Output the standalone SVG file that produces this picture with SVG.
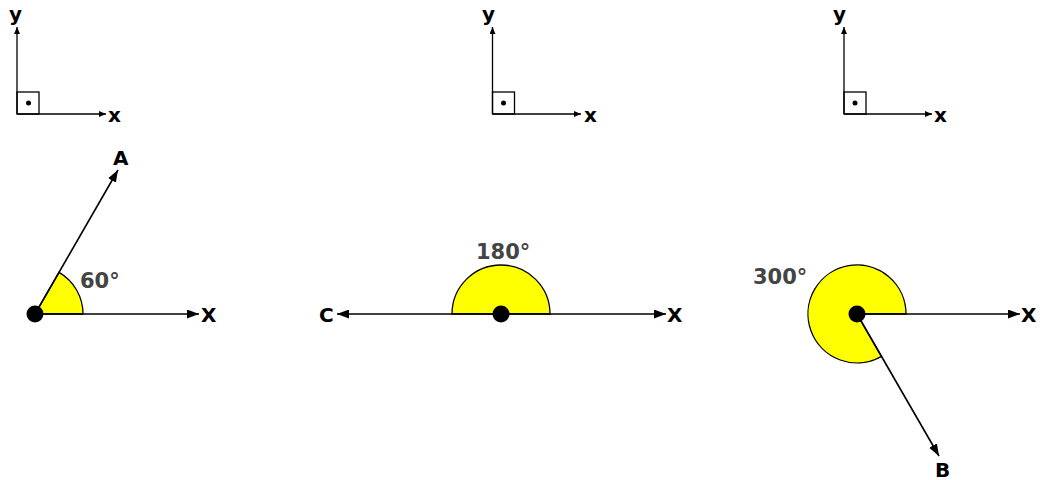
<svg xmlns="http://www.w3.org/2000/svg" width="1040" height="480" viewBox="0 0 1040 480">
<style>
.ln{stroke:#000;stroke-width:1.6;fill:none}
.ax{stroke:#000;stroke-width:1.3;fill:none}
.sec{fill:#ffff00;stroke:#000;stroke-width:1.3}
.lbl{font-family:"DejaVu Sans",Verdana,sans-serif;font-weight:bold;font-size:20px;fill:#000}
.deg{font-family:"DejaVu Sans",Verdana,sans-serif;font-weight:bold;font-size:21px;fill:#444}
.axl{font-family:"DejaVu Sans",Verdana,sans-serif;font-weight:bold;font-size:20px;fill:#000}
</style>
<defs>
<marker id="ah" viewBox="0 0 12 9" refX="12" refY="4.5" markerWidth="12" markerHeight="9" markerUnits="userSpaceOnUse" orient="auto"><path d="M0,0 L12,4.5 L0,9 Z" fill="#000"/></marker>
<marker id="ahs" viewBox="0 0 7 6" refX="7" refY="3" markerWidth="7" markerHeight="6" markerUnits="userSpaceOnUse" orient="auto"><path d="M0,0 L7,3 L0,6 Z" fill="#000"/></marker>
</defs>
<g id="axes1">
<path class="ax" d="M17,114 V27" marker-end="url(#ahs)"/>
<path class="ax" d="M17,114 H106" marker-end="url(#ahs)"/>
<rect class="ax" x="17" y="92" width="22" height="22"/>
<circle cx="28.5" cy="103" r="2.5" fill="#000"/>
<text class="axl" x="9" y="21">y</text>
<text class="axl" x="108" y="122">x</text>
</g>
<g id="axes2">
<path class="ax" d="M492.5,114 V27" marker-end="url(#ahs)"/>
<path class="ax" d="M492.5,114 H581" marker-end="url(#ahs)"/>
<rect class="ax" x="492.5" y="92" width="22" height="22"/>
<circle cx="503.5" cy="103" r="2.5" fill="#000"/>
<text class="axl" x="482" y="21">y</text>
<text class="axl" x="584" y="122">x</text>
</g>
<g id="axes3">
<path class="ax" d="M844,114 V27" marker-end="url(#ahs)"/>
<path class="ax" d="M844,114 H932" marker-end="url(#ahs)"/>
<rect class="ax" x="844" y="92" width="22" height="22"/>
<circle cx="855" cy="103" r="2.5" fill="#000"/>
<text class="axl" x="833" y="21">y</text>
<text class="axl" x="934" y="122">x</text>
</g>
<g id="angle60">
<path class="sec" d="M35,314 L83,314 A48,48 0 0 0 59,272.4 Z"/>
<text class="deg" x="80" y="288">60°</text>
</g>
<g id="angle180">
<path class="sec" d="M452,314 A49,49 0 0 1 550,314 Z"/>
<text class="deg" x="476" y="259">180°</text>
</g>
<g id="angle300">
<path class="sec" d="M857,314 L906,314 A49,49 0 1 0 881.5,356.4 Z"/>
<text class="deg" x="753" y="284">300°</text>
</g>
<g id="connectors">
<path class="ln" d="M35,314 H199" marker-end="url(#ah)"/>
<path class="ln" d="M35,314 L118,170" marker-end="url(#ah)"/>
<path class="ln" d="M501,314 H666" marker-end="url(#ah)"/>
<path class="ln" d="M501,314 H337" marker-end="url(#ah)"/>
<path class="ln" d="M857,314 H1020" marker-end="url(#ah)"/>
<path class="ln" d="M857,314 L939,456" marker-end="url(#ah)"/>
</g>
<g id="points">
<circle cx="35" cy="314" r="8.5" fill="#000"/>
<circle cx="501" cy="314" r="8.5" fill="#000"/>
<circle cx="857" cy="314" r="8.5" fill="#000"/>
</g>
<g id="labels">
<text class="lbl" x="113" y="165">A</text>
<text class="lbl" x="201" y="322">X</text>
<text class="lbl" x="319" y="322">C</text>
<text class="lbl" x="667" y="322">X</text>
<text class="lbl" x="1021" y="322">X</text>
<text class="lbl" x="935" y="477">B</text>
</g>
</svg>
